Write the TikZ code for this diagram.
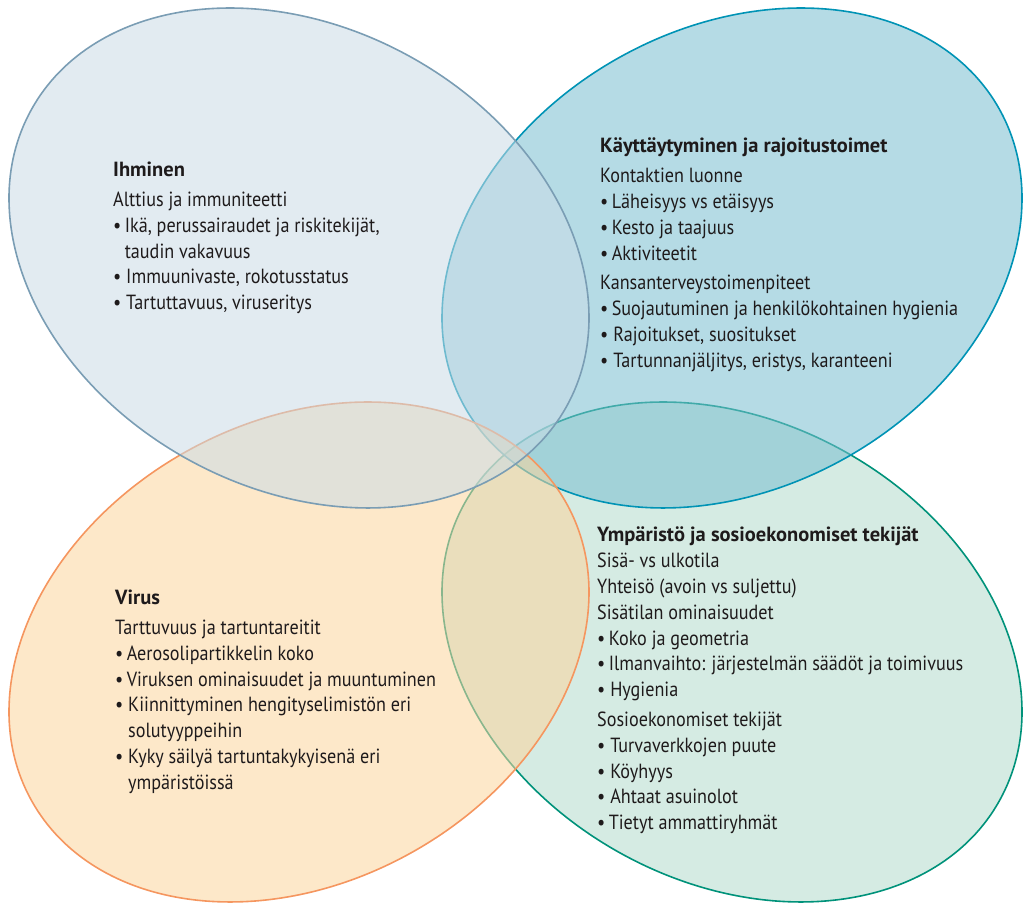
\documentclass[tikz,border=0pt]{standalone}
\usepackage{fontspec}
\setmainfont{PT Sans}[FakeStretch=0.885, BoldFeatures={FakeStretch=1.0}]
\definecolor{grayF}{RGB}{202,219,230}
\definecolor{grayD}{RGB}{122,157,180}
\definecolor{blueF}{RGB}{120,190,208}
\definecolor{blueD}{RGB}{0,147,181}
\definecolor{oranF}{RGB}{251,213,157}
\definecolor{oranD}{RGB}{245,150,95}
\definecolor{greenF}{RGB}{179,219,204}
\definecolor{greenD}{RGB}{0,146,122}
\definecolor{txt}{RGB}{30,26,27}
\tikzset{
  venn/.style={line width=1.6pt, fill opacity=0.55},
  txtblock/.style={anchor=north west, inner sep=0pt, align=left, text=txt,
    font=\fontsize{20.5}{25.8}\selectfont},
}
\begin{document}
\begin{tikzpicture}[x=1pt,y=1pt]
\useasboundingbox (0,0) rectangle (1023,904);
\begin{scope}
\clip (0,0) rectangle (1023,904);
\draw[venn, draw=greenD, fill=greenF, rotate around={-29:(732,252)}] (732,252) ellipse [x radius=306, y radius=230];
\draw[venn, draw=blueD, fill=blueF, rotate around={29:(732,646)}] (732,646) ellipse [x radius=306, y radius=230];
\draw[venn, draw=oranD, fill=oranF, rotate around={29:(299,252)}] (299,252) ellipse [x radius=306, y radius=230];
\draw[venn, draw=grayD, fill=grayF, rotate around={-29:(299,646)}] (299,646) ellipse [x radius=306, y radius=230];
\end{scope}

\node[txtblock] (ihm) at (113,742) {\textbf{Ihminen}\\[4pt]
Alttius ja immuniteetti\\
•\,Ikä, perussairaudet ja riskitekijät,\\
\phantom{•\,}taudin vakavuus\\
•\ Immuunivaste, rokotusstatus\\
•\ Tartuttavuus, viruseritys};

\node[txtblock] (kay) at (600,766) {\textbf{Käyttäytyminen ja rajoitustoimet}\\[4pt]
Kontaktien luonne\\
•\,Läheisyys vs etäisyys\\
•\,Kesto ja taajuus\\
•\,Aktiviteetit\\[4pt]
Kansanterveystoimenpiteet\\
•\,Suojautuminen ja henkilökohtainen hygienia\\
•\ Rajoitukset, suositukset\\
•\ Tartunnanjäljitys, eristys, karanteeni};

\node[txtblock] (vir) at (115,314) {\textbf{Virus}\\[4pt]
Tarttuvuus ja tartuntareitit\\
•\,Aerosolipartikkelin koko\\
•\,Viruksen ominaisuudet ja muuntuminen\\
•\ Kiinnittyminen hengityselimistön eri\\
\phantom{•\ }solutyyppeihin\\
•\ Kyky säilyä tartuntakykyisenä eri\\
\phantom{•\ }ympäristöissä};

\node[txtblock] (ymp) at (597,377) {\textbf{Ympäristö ja sosioekonomiset tekijät}\\
Sisä- vs ulkotila\\
Yhteisö (avoin vs suljettu)\\
Sisätilan ominaisuudet\\
•\,Koko ja geometria\\
•\,Ilmanvaihto: järjestelmän säädöt ja toimivuus\\
•\ Hygienia\\[4pt]
Sosioekonomiset tekijät\\
•\ Turvaverkkojen puute\\
•\ Köyhyys\\
•\ Ahtaat asuinolot\\
•\,Tietyt ammattiryhmät};
\end{tikzpicture}
\end{document}
